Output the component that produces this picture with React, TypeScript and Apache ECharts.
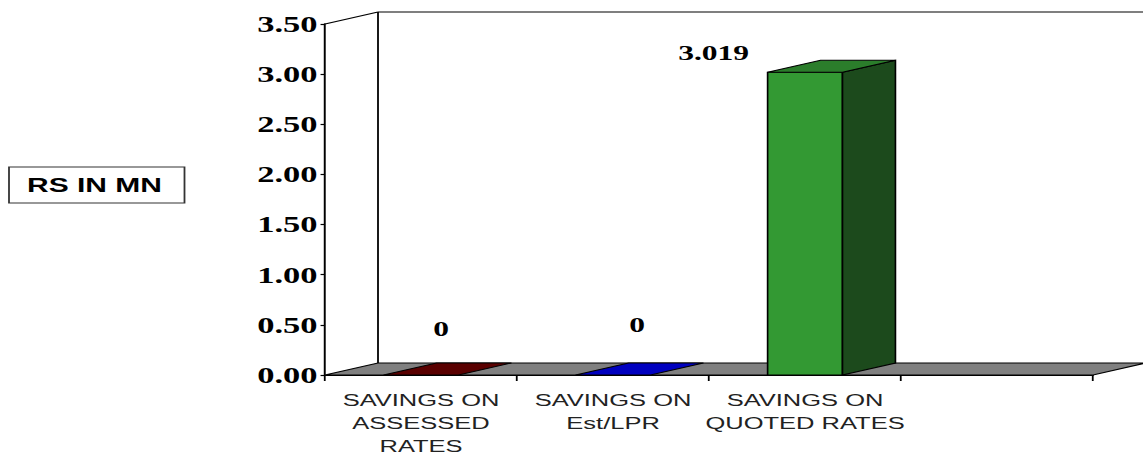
import React, { useEffect, useRef } from "react";
import * as echarts from "echarts";

const categories = ["SAVINGS ON\nASSESSED\nRATES", "SAVINGS ON\nEst/LPR", "SAVINGS ON\nQUOTED RATES", ""];
const values = [0, 0, 3.019];
const valueLabels = ["0", "0", "3.019"];
const yTicks = { min: 0, max: 3.5, interval: 0.5 };
const axisTitle = "RS IN MN";

// styles (unscaled coordinates; the whole chart is stretched 1.5x horizontally)
const STRETCH = 1.5;
const DEPTH_X = 35.3;
const DEPTH_Y = -12;
const barColors = [
  { front: "#660000", side: "#3d0000", top: "#5a0000" },
  { front: "#0000cc", side: "#00007a", top: "#0000c0" },
  { front: "#339933", side: "#1c4a1c", top: "#2b7d2b" },
];
const labelOffsets = [
  [13.3, -46],
  [16, -50],
  [-61, -19],
];

export default function App() {
  const ref = useRef<HTMLDivElement>(null);
  useEffect(() => {
    if (!ref.current) return;
    const chart = echarts.init(ref.current, null, { renderer: "svg" });
    const option: any = {
      animation: false,
      backgroundColor: "#ffffff",
      grid: {
        left: 216.7,
        top: 24,
        width: 512,
        height: 351,
        containLabel: false,
        outerBoundsMode: "none",
      },
      xAxis: {
        type: "category",
        data: categories,
        boundaryGap: true,
        axisLine: { show: true, lineStyle: { color: "#000", width: 1.2 } },
        axisTick: { show: true, length: 6, lineStyle: { color: "#000", width: 1.2 } },
        axisLabel: {
          interval: 0,
          fontFamily: "Liberation Sans",
          fontSize: 17,
          lineHeight: 23,
          color: "#222",
          margin: 14,
        },
        splitLine: { show: false },
      },
      yAxis: {
        type: "value",
        min: yTicks.min,
        max: yTicks.max,
        interval: yTicks.interval,
        axisLine: { show: true, lineStyle: { color: "#000", width: 1.3 } },
        axisTick: { show: true, length: 3, lineStyle: { color: "#000", width: 1.2 } },
        axisLabel: {
          formatter: (v: number) => v.toFixed(2),
          fontFamily: "Liberation Serif",
          fontWeight: "bold",
          fontSize: 23,
          color: "#000",
          margin: 5,
        },
        splitLine: { show: false },
      },
      graphic: [
        {
          type: "rect",
          shape: { x: 6, y: 167, width: 117, height: 36 },
          style: { fill: "#fff", stroke: "#333", lineWidth: 1.2 },
        },
        {
          type: "text",
          x: 63,
          y: 185,
          style: {
            text: axisTitle,
            fontFamily: "Liberation Sans",
            fontWeight: "bold",
            fontSize: 20,
            fill: "#000",
            align: "center",
            verticalAlign: "middle",
          },
        },
      ],
      series: [
        {
          type: "custom",
          z: 1,
          silent: true,
          data: [[0, 0]],
          renderItem: (params: any, api: any) => {
            const cs = params.coordSys;
            const x = cs.x, y = cs.y, w = cs.width, h = cs.height;
            const by = y + h;
            return {
              type: "group",
              children: [
                {
                  type: "polygon",
                  shape: {
                    points: [
                      [x, by],
                      [x + w, by],
                      [x + w + DEPTH_X, by + DEPTH_Y],
                      [x + DEPTH_X, by + DEPTH_Y],
                    ],
                  },
                  style: { fill: "#808080", stroke: "#000", lineWidth: 1.1 },
                },
                {
                  type: "line",
                  shape: { x1: x + DEPTH_X, y1: y + DEPTH_Y, x2: x + DEPTH_X, y2: by + DEPTH_Y },
                  style: { stroke: "#000", lineWidth: 1.2 },
                },
                {
                  type: "line",
                  shape: { x1: x, y1: y, x2: x + DEPTH_X, y2: y + DEPTH_Y },
                  style: { stroke: "#000", lineWidth: 1.1 },
                },
                {
                  type: "line",
                  shape: { x1: x + DEPTH_X, y1: y + DEPTH_Y, x2: x + w + DEPTH_X, y2: y + DEPTH_Y },
                  style: { stroke: "#000", lineWidth: 1.2 },
                },
              ],
            };
          },
        },
        {
          type: "custom",
          z: 3,
          data: values.map((v, i) => [i, v]),
          renderItem: (params: any, api: any) => {
            const i = api.value(0);
            const v = api.value(1);
            const top = api.coord([i, v]);
            const base = api.coord([i, 0]);
            const bw = api.size([1, 0])[0] * 0.39;
            const x0 = top[0] - bw / 2;
            const x1 = top[0] + bw / 2;
            const ty = top[1];
            const by = base[1];
            const c = barColors[i];
            const children: any[] = [];
            if (by - ty > 0.5) {
              children.push({
                type: "rect",
                shape: { x: x0, y: ty, width: bw, height: by - ty },
                style: { fill: c.front, stroke: "#000", lineWidth: 1.1 },
              });
              children.push({
                type: "polygon",
                shape: {
                  points: [
                    [x1, ty],
                    [x1 + DEPTH_X, ty + DEPTH_Y],
                    [x1 + DEPTH_X, by + DEPTH_Y],
                    [x1, by],
                  ],
                },
                style: { fill: c.side, stroke: "#000", lineWidth: 1.1 },
              });
            }
            children.push({
              type: "polygon",
              shape: {
                points: [
                  [x0, ty],
                  [x1, ty],
                  [x1 + DEPTH_X, ty + DEPTH_Y],
                  [x0 + DEPTH_X, ty + DEPTH_Y],
                ],
              },
              style: { fill: c.top, stroke: "#000", lineWidth: 1 },
            });
            const off = labelOffsets[i];
            children.push({
              type: "text",
              x: top[0] + off[0],
              y: ty + off[1],
              style: {
                text: valueLabels[i],
                fontFamily: "Liberation Serif",
                fontWeight: "bold",
                fontSize: 21,
                fill: "#000",
                align: "center",
                verticalAlign: "middle",
              },
            });
            return { type: "group", children };
          },
        },
      ],
    };
    chart.setOption(option);
    return () => chart.dispose();
  }, []);

  return (
    <div
      style={{
        position: "fixed",
        left: 0,
        top: 0,
        width: 1143,
        height: 459,
        overflow: "hidden",
        background: "#fff",
      }}
    >
      <div
        ref={ref}
        style={{
          width: 1143 / STRETCH,
          height: 459,
          transform: `scaleX(${STRETCH})`,
          transformOrigin: "0 0",
        }}
      />
    </div>
  );
}
